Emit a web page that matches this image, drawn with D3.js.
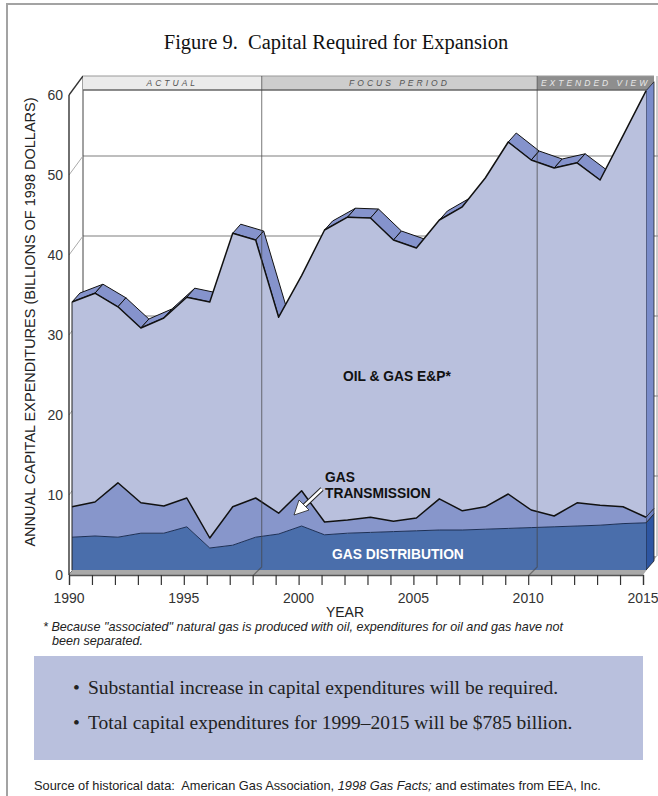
<!DOCTYPE html>
<html><head><meta charset="utf-8">
<script src="https://cdn.jsdelivr.net/npm/d3@7/dist/d3.min.js"></script>
<style>
body{margin:0;background:#fff;}
svg{display:block;}
</style></head>
<body><svg id="chart" width="658" height="796"></svg>
<script>
// ---------- data ----------
const years = [1990,1991,1992,1993,1994,1995,1996,1997,1998,1999,2000,2001,2002,2003,2004,2005,2006,2007,2008,2009,2010,2011,2012,2013,2014,2015];
const gasDistribution = [4.1,4.25,4.1,4.6,4.6,5.4,2.75,3.1,4.1,4.5,5.5,4.4,4.6,4.7,4.8,4.9,5.0,5.0,5.1,5.2,5.3,5.4,5.5,5.6,5.8,5.9];
const gasTransmission = [3.8,4.25,6.8,3.8,3.4,3.6,1.25,4.8,4.9,2.6,4.4,1.6,1.65,1.9,1.3,1.6,3.9,2.4,2.8,4.3,2.2,1.35,2.9,2.5,2.1,0.7];
const oilGasEP = [25.6,26.1,22.0,21.85,23.5,25.1,29.5,34.2,32.25,24.5,26.9,36.5,37.85,37.4,35.15,33.75,34.85,38.0,41.1,44.0,43.75,43.5,42.5,40.65,46.4,53.3];
const yTicks = [0,10,20,30,40,50,60];
const xLabelYears = [1990,1995,2000,2005,2010,2015];
const periods = [
  {label:"ACTUAL", start:1990, end:1998},
  {label:"FOCUS PERIOD", start:1998, end:2010},
  {label:"EXTENDED VIEW", start:2010, end:2015}
];
const seriesKeys = ["dist","trans","ep"];

const table = years.map((yr,i)=>({year:yr, dist:gasDistribution[i], trans:gasTransmission[i], ep:oilGasEP[i]}));
const stacked = d3.stack().keys(seriesKeys)(table);

// ---------- geometry ----------
const svg = d3.select("#chart");
const x = d3.scaleLinear().domain([1990,2015]).range([69,643]);
const y = d3.scaleLinear().domain([0,60]).range([575,95]);
const FRONT = {dx:3, dy:-5};   // data front face offset
const SLAB = {dx:8, dy:-9};    // depth of data slab
const BACK = {dx:14, dy:-19};  // back wall offset
const fx = v => x(v) + FRONT.dx;
const fy = v => y(v) + FRONT.dy;

const fills = {dist:"#4a6eab", trans:"#8796cb", ep:"#b9c0dd"};
const capFills = {dist:"#2e56a2", trans:"#6c80c2", ep:"#7a8cca"};
const ribbonFill = "#8593cc";
const SANS = "Liberation Sans, Arial, sans-serif";
const SERIF = "Liberation Serif, serif";

// page frame
svg.append("line").attr("x1",7).attr("y1",4).attr("x2",7).attr("y2",796).attr("stroke","#a3a3a3").attr("stroke-width",2);
svg.append("line").attr("x1",6).attr("y1",4).attr("x2",658).attr("y2",4).attr("stroke","#a3a3a3").attr("stroke-width",2);

// title
svg.append("text").attr("x",336).attr("y",49).attr("text-anchor","middle")
  .attr("font-family",SERIF).attr("font-size",20.5).attr("fill","#111")
  .attr("xml:space","preserve").text("Figure 9.  Capital Required for Expansion");

// back wall gridlines
const g0 = svg.append("g");
yTicks.filter(v=>v>0 && v<60).forEach(v=>{
  g0.append("line").attr("x1",x(1990)+BACK.dx).attr("x2",658)
    .attr("y1",y(v)+BACK.dy).attr("y2",y(v)+BACK.dy).attr("stroke","#a8a8a8").attr("stroke-width",1.6);
});
g0.append("line").attr("x1",x(1990)+BACK.dx).attr("x2",x(1990)+BACK.dx)
  .attr("y1",y(60)+BACK.dy).attr("y2",y(0)+BACK.dy).attr("stroke","#444").attr("stroke-width",1);
yTicks.forEach(v=>{
  g0.append("line").attr("x1",x(1990)).attr("y1",y(v)).attr("x2",x(1990)+BACK.dx).attr("y2",y(v)+BACK.dy)
    .attr("stroke", v===60||v===0 ? "#333":"#aaa").attr("stroke-width", v===60?1.3:1);
});
g0.append("line").attr("x1",x(2015)+BACK.dx).attr("x2",x(2015)+BACK.dx)
  .attr("y1",y(60)+BACK.dy).attr("y2",y(0)+BACK.dy).attr("stroke","#999").attr("stroke-width",1);

// header band
const bandTop = y(60)+BACK.dy, bandH = 14;
const bx = yr => yr===1990 ? x(1990)+BACK.dx : (yr===2015 ? x(2015)+11 : x(yr)+9);
const bandFill = ["#ebebeb","#cdcdcd","#8e8e8e"];
const bandText = ["#555","#555","#e8e8e8"];
periods.forEach((p,i)=>{
  svg.append("rect").attr("x",bx(p.start)).attr("y",bandTop).attr("width",bx(p.end)-bx(p.start)).attr("height",bandH)
    .attr("fill",bandFill[i]);
  svg.append("text").attr("x",(bx(p.start)+bx(p.end))/2).attr("y",bandTop+10).attr("text-anchor","middle")
    .attr("font-family",SANS).attr("font-size",8.5).attr("font-style","italic")
    .attr("letter-spacing",3).attr("fill",bandText[i]).text(p.label);
});
svg.append("line").attr("x1",bx(1990)).attr("x2",bx(2015)).attr("y1",bandTop).attr("y2",bandTop).attr("stroke","#999").attr("stroke-width",1);
svg.append("line").attr("x1",bx(1990)).attr("x2",bx(2015)).attr("y1",bandTop+bandH).attr("y2",bandTop+bandH).attr("stroke","#666").attr("stroke-width",1.5);

// floor
svg.append("polygon").attr("points",[
  [x(1990),y(0)],[x(2015),y(0)],[x(2015)+BACK.dx,y(0)+BACK.dy],[x(1990)+BACK.dx,y(0)+BACK.dy]].map(p=>p.join(",")).join(" "))
  .attr("fill","#a9a9a9");

// ---------- data slab ----------
const gd = svg.append("g");
const topLayer = stacked[stacked.length-1];
for(let i=0;i<topLayer.length-1;i++){
  const p1=[fx(years[i]),fy(topLayer[i][1])], p2=[fx(years[i+1]),fy(topLayer[i+1][1])];
  const sx=p2[0]-p1[0], sy=p2[1]-p1[1];
  const cross = sx*SLAB.dy - sy*SLAB.dx;
  if(cross<0){
    const pts=[p1,p2,[p2[0]+SLAB.dx,p2[1]+SLAB.dy],[p1[0]+SLAB.dx,p1[1]+SLAB.dy]];
    gd.append("polygon").attr("points",pts.map(p=>p.join(",")).join(" "))
      .attr("fill",ribbonFill).attr("stroke","#111").attr("stroke-width",1).attr("stroke-linejoin","round");
  }
}
const last = years.length-1;
stacked.forEach(s=>{
  const xe=fx(2015), y0=fy(s[last][0]), y1=fy(s[last][1]);
  const pts=[[xe,y0],[xe,y1],[xe+SLAB.dx,y1+SLAB.dy],[xe+SLAB.dx,y0+SLAB.dy]];
  gd.append("polygon").attr("points",pts.map(p=>p.join(",")).join(" "))
    .attr("fill",capFills[s.key]).attr("stroke","#222").attr("stroke-width",0.8);
});
const area = d3.area().x((d,i)=>fx(years[i])).y0(d=>fy(d[0])).y1(d=>fy(d[1]));
const line = d3.line().x((d,i)=>fx(years[i])).y(d=>fy(d[1]));
stacked.slice().reverse().forEach(s=>{
  gd.append("path").attr("d",area(s)).attr("fill",fills[s.key]);
});
stacked.forEach(s=>{
  gd.append("path").attr("d",line(s)).attr("fill","none")
    .attr("stroke", s.key==="dist" ? "#1d2f55" : "#111").attr("stroke-width", s.key==="dist"?1:1.5)
    .attr("stroke-linejoin","round");
});
gd.append("line").attr("x1",fx(1990)).attr("x2",fx(1990)).attr("y1",fy(0)).attr("y2",fy(topLayer[0][1]))
  .attr("stroke","#222").attr("stroke-width",1);

// period divider lines
[1998,2010].forEach(yr=>{
  svg.append("path").attr("d",`M${x(yr)},${y(0)+1} L${x(yr)+9},${y(0)-8} L${x(yr)+9},${bandTop}`)
    .attr("fill","none").attr("stroke","#444").attr("stroke-opacity",0.6).attr("stroke-width",1.2);
});

// ---------- axes ----------
svg.append("line").attr("x1",x(1990)).attr("x2",x(1990)).attr("y1",y(60)).attr("y2",y(0)).attr("stroke","#222").attr("stroke-width",1.3);
const yAxis = svg.append("g");
yTicks.forEach(v=>{
  yAxis.append("text").attr("x",63).attr("y",y(v)+5).attr("text-anchor","end")
    .attr("font-family",SANS).attr("font-size",14).attr("fill","#333").text(v);
});
const xAxis = d3.axisBottom(x).tickValues(years).tickSize(10).tickFormat(()=> "");
const gx = svg.append("g").attr("transform",`translate(0,${y(0)})`).call(xAxis);
gx.select(".domain").attr("stroke","#555").attr("stroke-width",1.3);
gx.selectAll(".tick line").attr("stroke","#333").attr("stroke-width",1.2);
xLabelYears.forEach(yr=>{
  svg.append("text").attr("x",x(yr)).attr("y",603).attr("text-anchor","middle")
    .attr("font-family",SANS).attr("font-size",14).attr("fill","#333").text(yr);
});
svg.append("text").attr("x",345).attr("y",617).attr("text-anchor","middle")
  .attr("font-family",SANS).attr("font-size",14).attr("fill","#222").text("YEAR");
svg.append("text").attr("transform","translate(35,322) rotate(-90)").attr("text-anchor","middle")
  .attr("font-family",SANS).attr("font-size",14.5).attr("fill","#222")
  .text("ANNUAL CAPITAL EXPENDITURES (BILLIONS OF 1998 DOLLARS)");

// ---------- in-chart labels ----------
const lab = (t,xx,yy,col)=>svg.append("text").attr("x",xx).attr("y",yy)
  .attr("font-family",SANS).attr("font-size",13.8).attr("font-weight","bold").attr("fill",col).text(t);
lab("OIL & GAS E&P*",343,381,"#111");
lab("GAS",325,482,"#111");
lab("TRANSMISSION",325,498,"#111");
lab("GAS DISTRIBUTION",332,559,"#fff");
svg.append("line").attr("x1",322).attr("y1",489).attr("x2",303).attr("y2",507).attr("stroke","#222").attr("stroke-width",4.5);
svg.append("line").attr("x1",322).attr("y1",489).attr("x2",303).attr("y2",507).attr("stroke","#fff").attr("stroke-width",2.5);
svg.append("polygon").attr("points","294,515 299,500 309,510").attr("fill","#fff").attr("stroke","#222").attr("stroke-width",0.8);

// footnote
const fn = svg.append("text").attr("font-family",SANS).attr("font-size",12.6)
  .attr("font-style","italic").attr("fill","#222");
fn.append("tspan").attr("x",43).attr("y",631).text("* Because \"associated\" natural gas is produced with oil, expenditures for oil and gas have not");
fn.append("tspan").attr("x",52).attr("y",645).text("been separated.");

// summary box
svg.append("rect").attr("x",34).attr("y",656).attr("width",609).attr("height",104).attr("fill","#b9c0dd");
const bullets = ["Substantial increase in capital expenditures will be required.",
                 "Total capital expenditures for 1999\u20132015 will be $785 billion."];
bullets.forEach((b,i)=>{
  svg.append("text").attr("x",73).attr("y",694+i*35).attr("font-family",SERIF).attr("font-size",19.5).attr("fill","#222").text("\u2022");
  svg.append("text").attr("x",88).attr("y",694+i*35).attr("font-family",SERIF).attr("font-size",19.5).attr("fill","#222").text(b);
});
const src = svg.append("text").attr("x",34).attr("y",790).attr("font-family",SANS)
  .attr("font-size",12.8).attr("fill","#222").attr("xml:space","preserve");
src.append("tspan").text("Source of historical data:  American Gas Association, ");
src.append("tspan").attr("font-style","italic").text("1998 Gas Facts;");
src.append("tspan").text(" and estimates from EEA, Inc.");
</script>
</body></html>
